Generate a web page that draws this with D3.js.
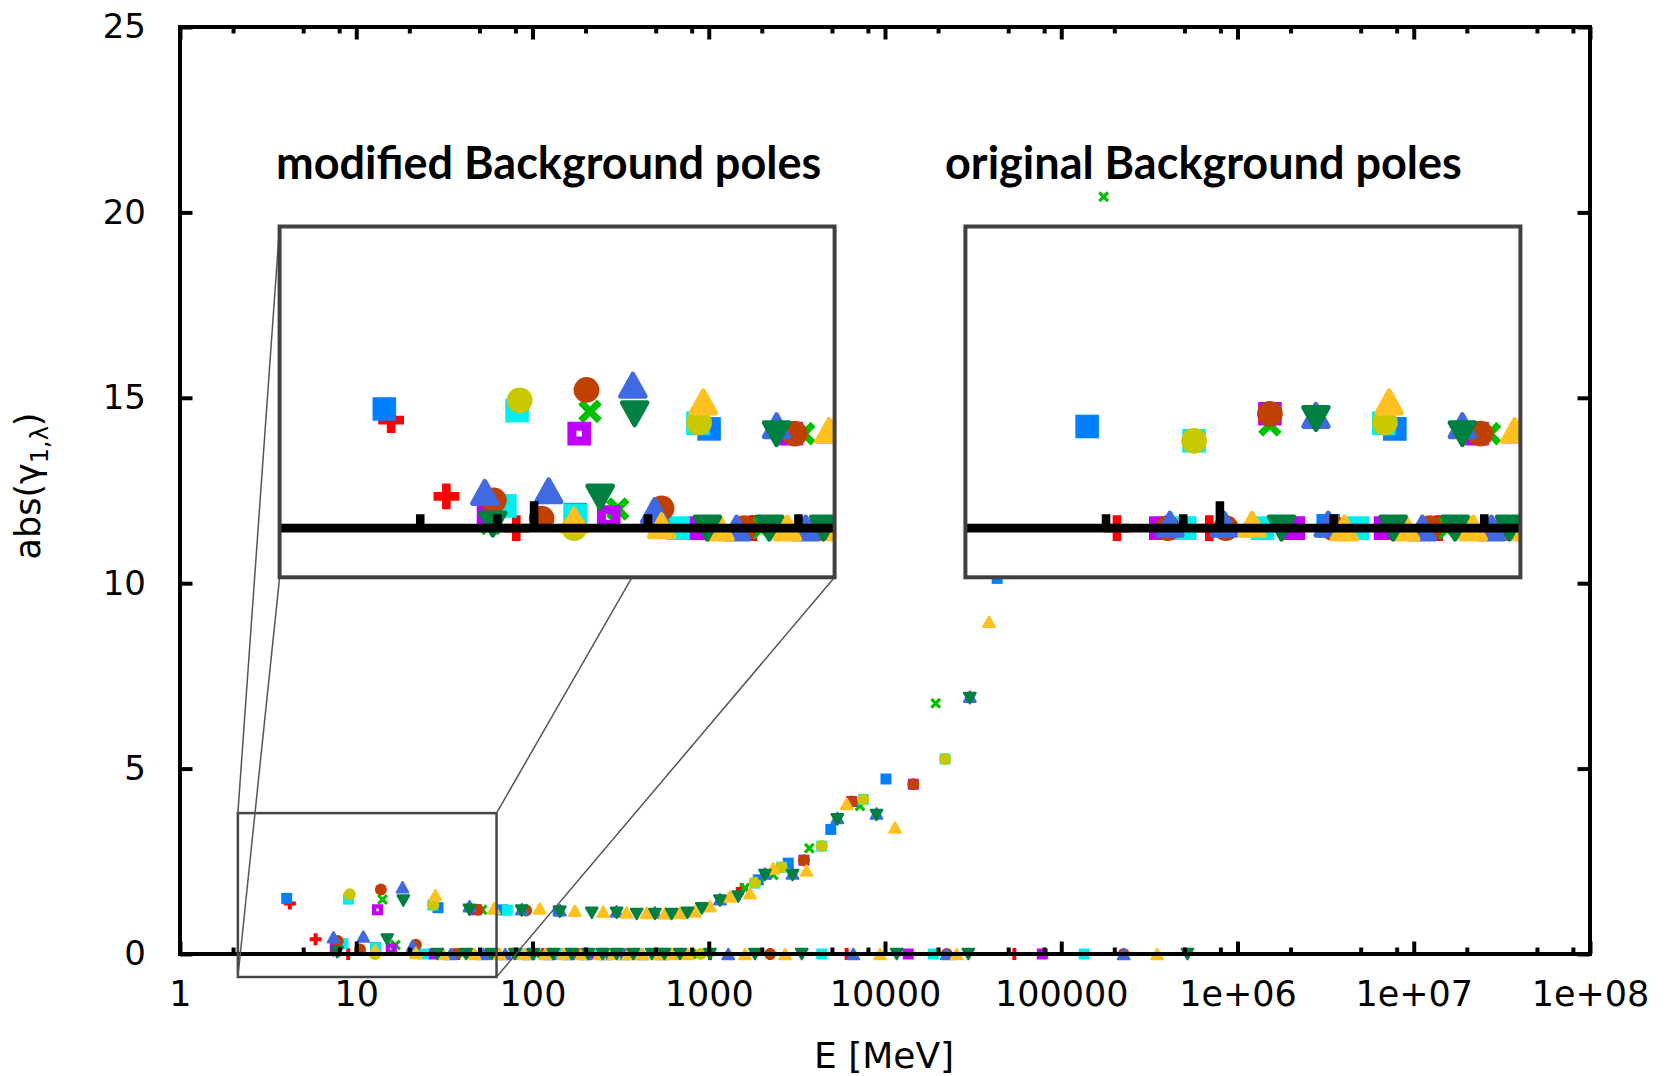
<!DOCTYPE html>
<html>
<head>
<meta charset="utf-8">
<script src="https://cdn.jsdelivr.net/npm/d3@7"></script>
<style>
  html, body { margin: 0; padding: 0; background: #fff; }
  svg { display: block; }
</style>
</head>
<body>
<svg id="chart" width="1667" height="1076"></svg>
<script>
// ---- axes ----
const xMajorTicks = [1, 10, 100, 1000, 10000, 100000, 1e6, 1e7, 1e8];
const xTickLabels = ["1", "10", "100", "1000", "10000", "100000", "1e+06", "1e+07", "1e+08"];
const xMinorMantissas = [2, 5, 8];
const yTicks = [0, 5, 10, 15, 20, 25];
const yTickLabels = ["0", "5", "10", "15", "20", "25"];

// magnified window (E in MeV, abs value)
const zoomE = [2.13, 62.5];
const zoomY = [-0.62, 3.80];

// ---- data: [E (MeV), abs(gamma_1,lambda)] ----
// points from 25 MeV upwards are common to both pole sets
const redHigh = [[38,0],[64,0],[115,0],[190,0],[310,0],[520,0],[1016,0],[1540,1.75],[2228,0],[6060,0],[54200,0]];
const redModLow = [[4.2,1.36],[5.88,0.40],[9.0,0]];
const redOrigLow = [[5.36,0],[9.4,0]];

const greenHigh = [[40,0],[51.8,1.19],[105,0],[270,0],[800,0],[1600,1.78],[2323,2.13],[3720,2.85],[7214,3.99],[19400,6.76],[174000,20.42]];
const greenModLow = [[7.7,0.06],[14.1,1.47],[16.7,0.24]];
const greenOrigLow = [[13.6,1.30]];

const blueHigh = [[29.1,1.25],[68,1.19],[140,1.16],[1910,2.0],[2825,2.45],[4924,3.36],[10130,4.72],[43300,10.13]];
const blueModLow = [[4.03,1.50],[12.9,0.17]];
const blueOrigLow = [[4.47,1.28],[19.4,0.03]];

const purpleHigh = [[27.5,0],[48,1.19],[85,0],[140,0],[230,0],[380,0],[620,0],[3467,2.53],[6471,4.11],[13550,0],[14480,4.58],[78100,0]];
const purpleModLow = [[7.6,0.18],[13.2,1.19],[15.8,0.14]];
const purpleOrigLow = [[7.0,0],[13.6,1.44],[15.7,0]];

const cyanHigh = [[27.2,1.32],[59.7,0],[72,1.18],[88,0],[145,0],[240,0],[400,0],[700,0],[1829,1.91],[2590,2.34],[4378,2.91],[4380,0],[7538,4.17],[18800,0],[21900,5.26],[135000,0]];
const cyanModLow = [[8.4,0.28],[9.04,1.48],[12.9,0.16],[24.1,0]];
const cyanOrigLow = [[8.1,0],[8.57,1.10],[13.0,0],[23.2,0]];

const brownHigh = [[36,0],[49,1.19],[57,0],[92,1.17],[98,0],[180,0],[330,0],[2228,0],[3467,2.53],[6471,4.11],[14480,4.58],[22400,0],[226000,0]];
const brownModLow = [[7.85,0.35],[10.5,0.12],[13.8,1.74],[21.8,0.25]];
const brownOrigLow = [[7.3,0],[10.4,0],[13.6,1.44],[20.0,0]];

const oliveHigh = [[27.4,1.33],[45,0],[78,0],[155,0],[280,0],[900,0],[1829,1.93],[2590,2.34],[4378,2.91],[7538,4.17],[21900,5.26]];
const oliveModLow = [[9.19,1.61],[12.8,0]];
const oliveOrigLow = [[8.57,1.10]];

const royalHigh = [[34.4,0],[43.9,1.29],[52.4,0],[70,0],[87,1.21],[95,0],[125,0],[143,1.18],[160,0],[200,0],[260,0],[300,1.15],[330,0],[420,0],[495,1.12],[540,0],[1158,1.48],[1290,0],[2085,2.17],[2987,2.17],[5369,3.67],[6610,0],[8954,3.79],[22400,0],[30300,6.94],[226000,0]];
const royalModLow = [[7.43,0.45],[10.96,0.47],[18.3,1.80],[20.9,0.22]];
const royalOrigLow = [[7.4,0.05],[10.3,0.05],[18.0,1.42],[19.4,0.05]];

const goldHigh = [[28.1,1.59],[31.1,0],[46.9,0],[60.4,1.23],[65,0],[90,0],[110,1.23],[118,0],[150,0],[174,1.17],[190,0],[240,0],[252,1.14],[290,0],[342,1.12],[350,0],[420,0],[444,1.11],[520,0],[565,1.10],[620,0],[687,1.11],[760,0],[830,1.15],[1016,1.29],[1320,1.55],[1606,0],[1715,1.64],[2323,2.31],[2710,0],[3586,2.25],[6063,4.05],[9370,0],[11400,3.41],[25500,0],[38900,8.96],[350000,0]];
const goldModLow = [[12.8,0.10],[21.8,0.03]];
const goldOrigLow = [[12.2,0.05],[21.4,0]];

const dkgreenHigh = [[28.8,0],[42,0],[43.9,1.19],[58.5,0],[79.5,0],[86.9,1.17],[101,0],[131,0],[143,1.14],[167,0],[207,0],[217,1.11],[250,0],[300,0],[300,1.11],[373,0],[390,1.08],[475,0],[495,1.08],[560,0],[616,1.08],[687,0],[757,1.11],[913,1.23],[1016,0],[1158,1.44],[1472,1.55],[1830,0],[2085,2.13],[2987,2.13],[3370,0],[5369,3.63],[8954,3.75],[11650,0],[29700,0],[30300,6.90],[520000,0]];
const dkgreenModLow = [[7.8,0.05],[15.0,0.39],[18.5,1.44]];
const dkgreenOrigLow = [[14.6,0],[18.0,1.38]];

// series table, in plotting order
const series = [
  { shape: "plus",   color: "#ff0000", high: redHigh,     modLow: redModLow,     origLow: redOrigLow },
  { shape: "cross",  color: "#00c000", high: greenHigh,   modLow: greenModLow,   origLow: greenOrigLow },
  { shape: "square", color: "#0080ff", high: blueHigh,    modLow: blueModLow,    origLow: blueOrigLow },
  { shape: "dotsq",  color: "#c000ff", high: purpleHigh,  modLow: purpleModLow,  origLow: purpleOrigLow },
  { shape: "square", color: "#00eeee", high: cyanHigh,    modLow: cyanModLow,    origLow: cyanOrigLow },
  { shape: "circle", color: "#c04000", high: brownHigh,   modLow: brownModLow,   origLow: brownOrigLow },
  { shape: "circle", color: "#c8c800", high: oliveHigh,   modLow: oliveModLow,   origLow: oliveOrigLow },
  { shape: "triup",  color: "#4169e1", high: royalHigh,   modLow: royalModLow,   origLow: royalOrigLow },
  { shape: "triup",  color: "#ffc020", high: goldHigh,    modLow: goldModLow,    origLow: goldOrigLow },
  { shape: "tridn",  color: "#008040", high: dkgreenHigh, modLow: dkgreenModLow, origLow: dkgreenOrigLow }
];

// ---- layout ----
const plot = { left: 180, right: 1590, top: 27, bottom: 954 };
const insetL = { x0: 279.6, y0: 226.5, x1: 834.6, y1: 577.3 };
const insetR = { x0: 965.4, y0: 226.5, x1: 1520.4, y1: 577.3 };
const FRAME_W = 4, MAJ = 12.5, MIN = 6.5;
const tickFont = "DejaVu Sans";

const svg = d3.select("#chart");
const x = d3.scaleLog().domain([1, 1e8]).range([plot.left, plot.right]);
const y = d3.scaleLinear().domain([0, 25]).range([plot.bottom, plot.top]);

const minorTicks = [];
xMajorTicks.slice(0, -1).forEach(d => xMinorMantissas.forEach(m => minorTicks.push(d * m)));

// marker outlines, centred on the point, in main-plot pixels
function markerPath(shape) {
  switch (shape) {
    case "square": return "M-5.5,-5.5h11v11h-11Z";
    case "dotsq":  return "M-5.5,-5.5h11v11h-11Z M-1.3,-1.3v2.6h2.6v-2.6Z";
    case "circle": return "M6,0A6,6 0 1 1 -6,0A6,6 0 1 1 6,0Z";
    case "triup":  return "M0,-5.2L5.8,5.2L-5.8,5.2Z";
    case "tridn":  return "M0,5.2L5.8,-5.2L-5.8,-5.2Z";
    case "plus":   return "M-6,-2h4v-4h4v4h4v4h-4v4h-4v-4h-4Z";
    case "cross":  return "M-5.5,-3.2L-3.2,-5.5L0,-2.3L3.2,-5.5L5.5,-3.2L2.3,0L5.5,3.2L3.2,5.5L0,2.3L-3.2,5.5L-5.5,3.2L-2.3,0Z";
  }
}

function drawPoints(g, xs, ys, k, which) {
  series.forEach(s => {
    const pts = s[which].concat(s.high);
    const tri = s.shape === "triup" || s.shape === "tridn";
    g.append("g").selectAll("path").data(pts).join("path")
      .attr("d", markerPath(s.shape))
      .attr("transform", d => `translate(${xs(d[0])},${ys(d[1])}) scale(${k})`)
      .attr("fill", s.color)
      .attr("fill-rule", "evenodd")
      .attr("stroke", tri ? s.color : "none")
      .attr("stroke-width", tri ? 2.2 : 0)
      .attr("stroke-linejoin", "round");
  });
}

// ---- main plot points ----
const gMain = svg.append("g");
drawPoints(gMain, x, y, 1, "modLow");

// ---- axes (drawn over the points) ----
function styleAxis(g) {
  g.select(".domain").remove();
  g.selectAll(".tick line").attr("stroke", "#000").attr("stroke-width", FRAME_W);
  g.selectAll(".tick text").attr("fill", "#000");
}
const axFont = g => g.attr("font-family", tickFont).attr("font-size", 35);

svg.append("g").attr("transform", `translate(0,${plot.bottom})`)
  .call(d3.axisBottom(x).tickValues(xMajorTicks).tickFormat((d, i) => xTickLabels[i]).tickSize(-MAJ).tickPadding(27))
  .call(axFont).call(styleAxis);
svg.append("g").attr("transform", `translate(0,${plot.bottom})`)
  .call(d3.axisBottom(x).tickValues(minorTicks).tickFormat("").tickSize(-MIN))
  .call(styleAxis);
svg.append("g").attr("transform", `translate(0,${plot.top})`)
  .call(d3.axisTop(x).tickValues(xMajorTicks).tickFormat("").tickSize(-MAJ))
  .call(styleAxis);
svg.append("g").attr("transform", `translate(0,${plot.top})`)
  .call(d3.axisTop(x).tickValues(minorTicks).tickFormat("").tickSize(-MIN))
  .call(styleAxis);
svg.append("g").attr("transform", `translate(${plot.left},0)`)
  .call(d3.axisLeft(y).tickValues(yTicks).tickFormat((d, i) => yTickLabels[i]).tickSize(-MAJ).tickPadding(34))
  .call(g => g.attr("font-family", tickFont).attr("font-size", 34)).call(styleAxis);
svg.append("g").attr("transform", `translate(${plot.right},0)`)
  .call(d3.axisRight(y).tickValues(yTicks).tickFormat("").tickSize(-MAJ))
  .call(styleAxis);

svg.append("rect")
  .attr("x", plot.left).attr("y", plot.top)
  .attr("width", plot.right - plot.left).attr("height", plot.bottom - plot.top)
  .attr("fill", "none").attr("stroke", "#000").attr("stroke-width", FRAME_W);

// axis titles
svg.append("text")
  .attr("x", 884).attr("y", 1068)
  .attr("text-anchor", "middle")
  .attr("font-family", tickFont).attr("font-size", 36)
  .text("E [MeV]");

const yl = svg.append("text")
  .attr("transform", "translate(40,486) rotate(-90)")
  .attr("text-anchor", "middle")
  .attr("font-family", tickFont).attr("font-size", 35);
yl.append("tspan").text("abs(γ");
yl.append("tspan").attr("font-size", 24).attr("dy", 8).text("1,λ");
yl.append("tspan").attr("dy", -8).text(")");

// ---- magnified views ----
const zx0 = x(zoomE[0]), zx1 = x(zoomE[1]);
const zy0 = y(zoomY[1]), zy1 = y(zoomY[0]);

function drawInset(box, which, id) {
  const xs = d3.scaleLog().domain(zoomE).range([box.x0, box.x1]);
  const ys = d3.scaleLinear().domain(zoomY).range([box.y1, box.y0]);
  const k = (box.x1 - box.x0) / (zx1 - zx0);

  svg.append("clipPath").attr("id", id).append("rect")
    .attr("x", box.x0).attr("y", box.y0)
    .attr("width", box.x1 - box.x0).attr("height", box.y1 - box.y0);

  svg.append("rect")
    .attr("x", box.x0).attr("y", box.y0)
    .attr("width", box.x1 - box.x0).attr("height", box.y1 - box.y0)
    .attr("fill", "#fff");

  const g = svg.append("g").attr("clip-path", `url(#${id})`);
  drawPoints(g, xs, ys, k, which);

  // magnified bottom border and its ticks
  g.append("g").attr("transform", `translate(0,${ys(0)})`)
    .call(d3.axisBottom(xs).tickValues(xMajorTicks).tickFormat("").tickSize(-MAJ * k))
    .call(styleAxis).selectAll(".tick line").attr("stroke-width", FRAME_W * k);
  g.append("g").attr("transform", `translate(0,${ys(0)})`)
    .call(d3.axisBottom(xs).tickValues(minorTicks).tickFormat("").tickSize(-MIN * k))
    .call(styleAxis).selectAll(".tick line").attr("stroke-width", FRAME_W * k);
  g.append("line")
    .attr("x1", box.x0).attr("x2", box.x1)
    .attr("y1", ys(0)).attr("y2", ys(0))
    .attr("stroke", "#000").attr("stroke-width", FRAME_W * k);

  svg.append("rect")
    .attr("x", box.x0).attr("y", box.y0)
    .attr("width", box.x1 - box.x0).attr("height", box.y1 - box.y0)
    .attr("fill", "none").attr("stroke", "#404040").attr("stroke-width", 4);
}

// window marker and guide lines
svg.append("rect")
  .attr("x", zx0).attr("y", zy0).attr("width", zx1 - zx0).attr("height", zy1 - zy0)
  .attr("fill", "none").attr("stroke", "#454545").attr("stroke-width", 2.5);

const guides = [
  [zx0, zy0, insetL.x0, insetL.y0],
  [zx0, zy1, insetL.x0, insetL.y1],
  [zx1, zy0, 632, insetL.y1],
  [zx1, zy1, insetL.x1, insetL.y1]
];
svg.append("g").selectAll("line").data(guides).join("line")
  .attr("x1", d => d[0]).attr("y1", d => d[1]).attr("x2", d => d[2]).attr("y2", d => d[3])
  .attr("stroke", "#555").attr("stroke-width", 1.5);

drawInset(insetL, "modLow", "clipL");
drawInset(insetR, "origLow", "clipR");

// inset titles
const titleFont = "Lato";
svg.append("text").attr("x", 276).attr("y", 179)
  .attr("font-family", titleFont).attr("font-weight", "bold").attr("font-size", 45)
  .text("modified Background poles");
svg.append("text").attr("x", 945).attr("y", 179)
  .attr("font-family", titleFont).attr("font-weight", "bold").attr("font-size", 45)
  .text("original Background poles");
</script>
</body>
</html>
